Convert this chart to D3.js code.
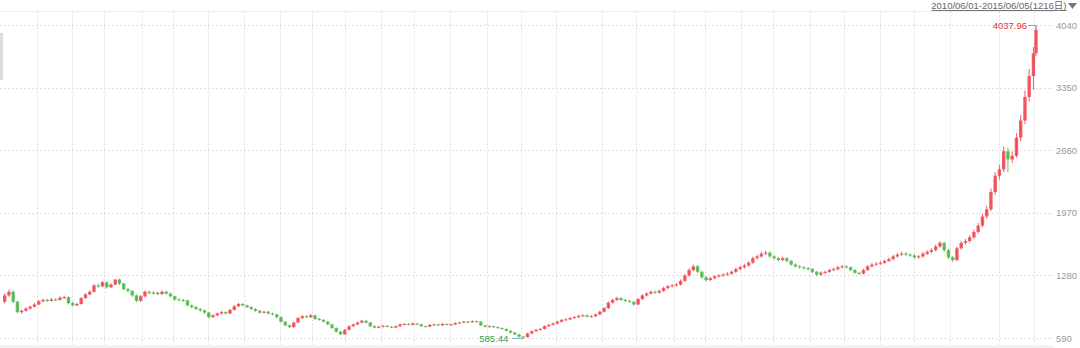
<!DOCTYPE html>
<html><head><meta charset="utf-8">
<script src="https://cdn.jsdelivr.net/npm/d3@7"></script>
<style>html,body{margin:0;padding:0;background:#fff;overflow:hidden}svg{display:block}</style>
</head><body>
<svg id="c" width="1080" height="348"></svg>
<script>
const rangeLabel = "2010/06/01-2015/06/05(1216日)";
const totalDays = 1216;
const daysPerCandle = 5;
const yTicks = [590, 1280, 1970, 2660, 3350, 4040];
const gridDays = [40,81,119,163,200,241,283,326,364,402,445,484,526,569,609,650,705,744,789,826,868,906,949,989,1032,1071,1114,1172,1213];

const opens = [990,1060,1100,990,875,890,915,935,960,995,
1010,1000,1015,1010,1035,1040,975,950,965,1030,
1070,1100,1170,1160,1205,1150,1180,1235,1190,1130,
1110,1060,1000,1050,1100,1085,1090,1075,1100,1080,
1050,1015,1010,1005,950,930,910,895,870,820,
840,860,875,860,900,940,965,950,930,910,
890,870,880,860,850,820,770,730,710,760,
810,830,820,840,800,790,770,740,700,660,
630,680,720,740,760,780,760,720,705,715,
725,715,705,720,740,745,735,750,740,720,
715,735,740,730,745,735,740,755,760,770,
765,775,770,730,715,720,710,700,690,670,
650,630,605,600,640,665,680,690,720,735,
750,770,790,795,810,820,835,840,825,830,
850,880,920,980,1010,1030,1010,1000,990,960,
1020,1060,1080,1100,1090,1110,1140,1160,1170,1180,
1220,1280,1340,1380,1320,1260,1230,1250,1270,1280,
1290,1300,1320,1350,1370,1390,1420,1470,1490,1520,
1530,1490,1470,1450,1470,1440,1400,1380,1370,1360,
1350,1320,1290,1310,1320,1340,1350,1370,1380,1370,
1340,1310,1300,1340,1380,1400,1410,1420,1440,1460,
1490,1510,1520,1510,1500,1480,1490,1520,1540,1560,
1600,1640,1560,1480,1450,1580,1640,1660,1700,1760,
1830,1930,2010,2200,2380,2450,2650,2560,2600,2800,
2990,3250,3480,3730];

const closes = [1060,1100,990,875,890,915,935,960,995,1010,
1000,1015,1010,1035,1040,975,950,965,1030,1070,
1100,1170,1160,1205,1150,1180,1235,1190,1130,1110,
1060,1000,1050,1100,1085,1090,1075,1100,1080,1050,
1015,1010,1005,950,930,910,895,870,820,840,
860,875,860,900,940,965,950,930,910,890,
870,880,860,850,820,770,730,710,760,810,
830,820,840,800,790,770,740,700,660,630,
680,720,740,760,780,760,720,705,715,725,
715,705,720,740,745,735,750,740,720,715,
735,740,730,745,735,740,755,760,770,765,
775,770,730,715,720,710,700,690,670,650,
630,605,600,640,665,680,690,720,735,750,
770,790,795,810,820,835,840,825,830,850,
880,920,980,1010,1030,1010,1000,990,960,1020,
1060,1080,1100,1090,1110,1140,1160,1170,1180,1220,
1280,1340,1380,1320,1260,1230,1250,1270,1280,1290,
1300,1320,1350,1370,1390,1420,1470,1490,1520,1530,
1490,1470,1450,1470,1440,1400,1380,1370,1360,1350,
1320,1290,1310,1320,1340,1350,1370,1380,1370,1340,
1310,1300,1340,1380,1400,1410,1420,1440,1460,1490,
1510,1520,1510,1500,1480,1490,1520,1540,1560,1600,
1640,1560,1480,1450,1580,1640,1660,1700,1760,1830,
1930,2010,2200,2380,2450,2650,2560,2600,2800,2990,
3250,3480,3730,3990];

const highs = [1085,1127,1115,1000,905,930,950,975,1010,1025,
1022,1030,1028,1048,1058,1050,988,978,1042,1085,
1118,1185,1190,1220,1215,1195,1240,1245,1200,1145,
1120,1070,1065,1115,1112,1105,1102,1115,1110,1090,
1058,1030,1025,1012,960,942,922,905,878,852,
872,890,885,912,952,978,975,958,940,918,
900,892,888,870,858,828,778,740,770,820,
842,840,852,848,810,798,778,748,708,668,
690,730,750,770,792,788,768,728,725,735,
732,722,730,750,755,752,760,758,746,728,
742,750,746,754,752,748,764,770,780,778,
785,782,776,736,728,726,716,708,696,676,
656,636,612,648,674,690,700,728,745,760,
780,800,808,822,832,846,852,848,842,860,
892,932,992,1024,1045,1040,1022,1012,998,1032,
1074,1095,1115,1112,1124,1155,1175,1186,1196,1236,
1296,1358,1400,1395,1332,1272,1266,1286,1296,1306,
1316,1336,1366,1388,1408,1438,1488,1508,1540,1552,
1545,1505,1484,1488,1482,1452,1414,1394,1384,1374,
1362,1330,1324,1334,1354,1366,1386,1396,1392,1380,
1350,1322,1354,1394,1416,1426,1436,1456,1478,1506,
1528,1540,1536,1524,1514,1506,1538,1558,1580,1622,
1660,1652,1574,1496,1598,1662,1684,1724,1786,1858,
1962,2048,2240,2420,2500,2700,2690,2650,2850,3050,
3320,3560,3800,4037.96];

const lows = [970,1045,975,860,858,880,900,925,950,985,
988,992,998,1002,1022,962,938,940,958,1020,
1060,1090,1140,1150,1135,1140,1170,1175,1115,1095,
1045,985,990,1040,1070,1072,1062,1065,1068,1038,
1002,998,990,938,918,900,882,858,805,812,
830,850,848,852,892,930,938,920,898,880,
858,862,850,840,808,760,720,700,702,752,
800,810,812,790,780,760,732,690,650,622,
625,672,712,732,752,750,712,696,698,706,
706,697,698,712,732,728,728,732,712,708,
710,728,722,724,728,728,734,748,752,756,
758,760,722,706,708,702,692,682,662,642,
622,596,585.44,595,632,658,672,684,712,728,
742,762,782,788,802,812,826,815,816,822,
842,872,910,970,1000,998,988,978,945,952,
1010,1048,1070,1076,1080,1100,1128,1150,1158,1170,
1210,1268,1325,1305,1240,1212,1218,1238,1258,1266,
1276,1288,1308,1336,1356,1376,1408,1455,1476,1505,
1475,1455,1434,1436,1425,1385,1366,1355,1346,1336,
1306,1272,1278,1298,1308,1328,1338,1358,1356,1326,
1296,1286,1290,1328,1368,1388,1398,1408,1428,1448,
1476,1496,1494,1484,1464,1466,1476,1506,1524,1544,
1585,1540,1460,1430,1440,1565,1620,1640,1685,1742,
1810,1905,1990,2170,2340,2420,2420,2520,2580,2760,
2950,3200,3330,3700];

const W = 1080, H = 348;
const plotLeft = 0, plotRight = 1053, plotTop = 11.5, plotBottom = 345;
const upColor = "#f0454c", downColor = "#4fb548";
const gridColor = "#dedede";

const svg = d3.select("#c");
const x = d3.scaleLinear().domain([0, totalDays - 1]).range([3, 1036]);
const y = d3.scaleLinear().domain([yTicks[0], yTicks[yTicks.length - 1]]).range([338, 25.3]);

// bottom band and top border
svg.append("rect").attr("x", 0).attr("y", plotBottom).attr("width", plotRight).attr("height", H - plotBottom).attr("fill", "#f2f2f2");
svg.append("line").attr("x1", 0).attr("x2", plotRight).attr("y1", plotTop).attr("y2", plotTop)
  .attr("stroke", "#efefef").attr("stroke-width", 1);
// left scroll handle
svg.append("rect").attr("x", 0).attr("y", 33).attr("width", 3).attr("height", 47).attr("fill", "#dcdcdc");

// vertical grid
svg.append("g").selectAll("line").data(gridDays).join("line")
  .attr("x1", d => Math.round(x(d)) + 0.5).attr("x2", d => Math.round(x(d)) + 0.5)
  .attr("y1", plotTop).attr("y2", plotBottom)
  .attr("stroke", gridColor).attr("stroke-dasharray", "2,2");

// horizontal grid
svg.append("g").selectAll("line").data(yTicks).join("line")
  .attr("x1", plotLeft).attr("x2", plotRight)
  .attr("y1", d => Math.round(y(d)) + 0.5).attr("y2", d => Math.round(y(d)) + 0.5)
  .attr("stroke", gridColor).attr("stroke-dasharray", "2,2");

// y axis labels
const yAxis = d3.axisRight(y).tickValues(yTicks).tickSize(0).tickPadding(3).tickFormat(d3.format("d"));
const ag = svg.append("g").attr("transform", `translate(${plotRight},0)`).call(yAxis);
ag.select(".domain").remove();
ag.selectAll("text").attr("fill", "#9a9a9a").style("font-size", "9.5px")
  .style("font-family", "'Liberation Sans', Arial, sans-serif");

// candles
const candles = closes.map((c, i) => {
  const d0 = i * daysPerCandle, d1 = Math.min(d0 + daysPerCandle - 1, totalDays - 1);
  return { o: opens[i], c, h: highs[i], l: lows[i], mid: (d0 + d1) / 2 };
});
const bw = 3.4;
const cg = svg.append("g");
cg.selectAll("line").data(candles).join("line")
  .attr("x1", d => x(d.mid)).attr("x2", d => x(d.mid))
  .attr("y1", d => y(d.h)).attr("y2", d => y(d.l))
  .attr("stroke", d => d.c >= d.o ? upColor : downColor).attr("stroke-width", 1).attr("opacity", 0.85);
cg.selectAll("rect").data(candles).join("rect")
  .attr("x", d => x(d.mid) - bw / 2).attr("width", bw)
  .attr("y", d => y(Math.max(d.o, d.c)))
  .attr("height", d => Math.max(1, Math.abs(y(d.o) - y(d.c))))
  .attr("fill", d => d.c >= d.o ? upColor : downColor).attr("opacity", 0.85);

// max / min annotations
const fmt = d3.format(".2f");
const maxC = candles.reduce((a, b) => b.h > a.h ? b : a);
const minC = candles.reduce((a, b) => b.l < a.l ? b : a);
const connColor = "#6aaed6";
const font = "'Liberation Sans', Arial, 'Noto Sans CJK SC', sans-serif";
{
  const mx = x(maxC.mid), my = y(maxC.h);
  svg.append("path").attr("d", `M${mx - 8},${my}H${mx}V${my + 3}`).attr("fill", "none").attr("stroke", connColor);
  svg.append("text").attr("x", mx - 9).attr("y", my).attr("dy", "0.35em").attr("text-anchor", "end")
    .attr("fill", "#e2343a").style("font-size", "9.5px").style("font-family", font).text(fmt(maxC.h));
}
{
  const nx = x(minC.mid), ny = y(minC.l);
  svg.append("path").attr("d", `M${nx - 11},${ny}H${nx}`).attr("fill", "none").attr("stroke", connColor);
  svg.append("text").attr("x", nx - 15).attr("y", ny).attr("dy", "0.35em").attr("text-anchor", "end")
    .attr("fill", "#3a9a46").style("font-size", "9.5px").style("font-family", font).text(fmt(minC.l));
}

// range label at top right
svg.append("text").attr("x", 1066.5).attr("y", 9).attr("text-anchor", "end")
  .attr("fill", "#666").style("font-size", "9.5px").style("font-family", font).text(rangeLabel);
svg.append("line").attr("x1", 931.5).attr("x2", 1066.5).attr("y1", 10.5).attr("y2", 10.5).attr("stroke", "#777");
svg.append("path").attr("d", "M1068,3L1077,3L1072.5,9Z").attr("fill", "#777");
</script>
</body></html>
